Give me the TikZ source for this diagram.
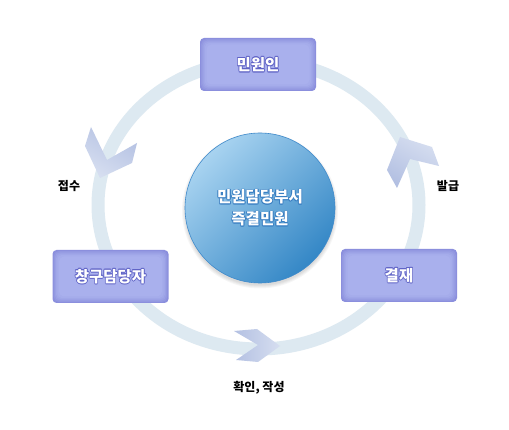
\documentclass[tikz,border=0pt]{standalone}
\usepackage{fontspec}
\newfontfamily\kr{Noto Sans CJK KR}
\definecolor{ringc}{HTML}{DDE9F1}
\definecolor{boxedge}{HTML}{8B8FDD}
\definecolor{boxa}{HTML}{9398E1}
\definecolor{boxb}{HTML}{9AA0E5}
\definecolor{boxc}{HTML}{A0A7E8}
\definecolor{boxd}{HTML}{A5ACEB}
\definecolor{boxe}{HTML}{A9B0ED}
\definecolor{boxhalo}{HTML}{5F63C6}
\definecolor{circtop}{HTML}{A8D3F0}
\definecolor{circbot}{HTML}{3487C6}
\definecolor{circbord}{HTML}{3F8ACB}
\definecolor{circhalo}{HTML}{3A7FC2}
\definecolor{chevA}{HTML}{B3C0E2}
\definecolor{chevB}{HTML}{D6DEF0}
\newcommand\halotxt[2]{\leavevmode
  \rlap{\textcolor{#1}{\kern0.8pt#2}}%
  \rlap{\textcolor{#1}{\kern-0.8pt#2}}%
  \rlap{\textcolor{#1}{\raisebox{0.8pt}{#2}}}%
  \rlap{\textcolor{#1}{\raisebox{-0.8pt}{#2}}}%
  \rlap{\textcolor{#1}{\kern0.6pt\raisebox{0.6pt}{#2}}}%
  \rlap{\textcolor{#1}{\kern-0.6pt\raisebox{0.6pt}{#2}}}%
  \rlap{\textcolor{#1}{\kern0.6pt\raisebox{-0.6pt}{#2}}}%
  \rlap{\textcolor{#1}{\kern-0.6pt\raisebox{-0.6pt}{#2}}}%
  \textcolor{white}{#2}}
\tikzset{
  stagebox/.style={rounded corners=4pt, minimum width=116pt, minimum height=53pt,
    inner sep=0pt, fill=boxedge,
    font=\kr\bfseries\fontsize{15.5}{18}\selectfont,
    path picture={
      \foreach \i/\c in {1.2/boxa,2.4/boxb,3.6/boxc,4.8/boxd,6.5/boxe}{
        \fill[\c, rounded corners=5pt]
          ([shift={(\i pt,-\i pt)}]path picture bounding box.north west) rectangle
          ([shift={(-\i pt,\i pt)}]path picture bounding box.south east);
      }}},
  steplabel/.style={font=\kr\bfseries\fontsize{12}{14}\selectfont, text=black, inner sep=0pt},
  chev/.style={top color=chevA, bottom color=chevB},
}
\begin{document}
\begin{tikzpicture}[x=1pt,y=-1pt]
\useasboundingbox (0,0) rectangle (509,430);
\fill[white] (0,0) rectangle (509,430);
% ring
\draw[ringc, line width=13pt] (258.5,205) ellipse [x radius=160.5, y radius=144];
% chevrons
\shade[chev, shading angle=-30] (91,127) -- (85,146) -- (100,178) -- (132,163) -- (137,143) -- (107,160) -- cycle;
\shade[chev, shading angle=150] (400,137) -- (432,147) -- (439,166) -- (410,159) -- (397,188) -- (387,170) -- cycle;
\shade[chev, shading angle=90] (234,331) -- (257,329) -- (280,346) -- (258,362) -- (236,360) -- (258,345) -- cycle;
% circle shadow
\foreach \r in {1,2,3,4}{\fill[black, opacity=0.035] (260,210.5) circle (74+\r);}
% centre circle
\node[circle, minimum size=150pt, inner sep=0pt, draw=circbord, line width=0.6pt,
  top color=circtop, bottom color=circbot, shading angle=45,
  align=center, font=\kr\bfseries\fontsize{15.5}{22}\selectfont] (c) at (260,208)
  {\halotxt{circhalo}{민원담당부서}\\\halotxt{circhalo}{즉결민원}};
% boxes
\node[stagebox] (n1) at (258,64.5) {\halotxt{boxhalo}{민원인}};
\node[stagebox] (n2) at (110.5,276.5) {\halotxt{boxhalo}{창구담당자}};
\node[stagebox] (n3) at (399,275.5) {\halotxt{boxhalo}{결재}};
% labels
\node[steplabel] (l1) at (69,186) {접수};
\node[steplabel] (l2) at (448,186) {발급};
\node[steplabel] (l3) at (259,388) {확인, 작성};
\end{tikzpicture}
\end{document}
